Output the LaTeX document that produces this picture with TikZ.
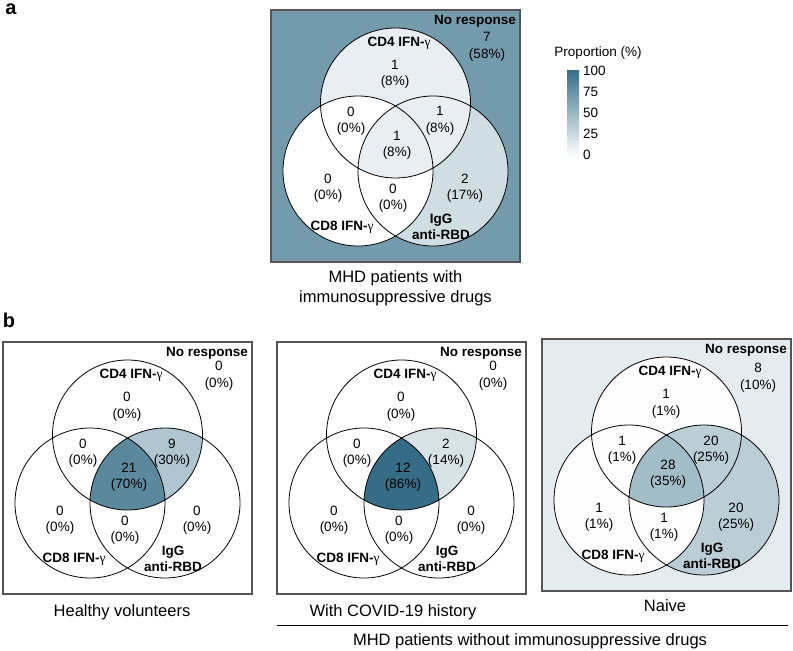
\documentclass[tikz,border=0pt]{standalone}
\usepackage{fontspec}
\setmainfont{Liberation Sans}
\newfontfamily\gfont{Liberation Serif}
\definecolor{vb}{RGB}{20,85,115}
\definecolor{boxgray}{RGB}{85,85,85}
\newcommand\gam{{\gfont\mdseries γ}}
\tikzset{
  num/.style={font=\fontsize{13.5}{16.5}\selectfont, align=center, inner sep=0pt},
  lab/.style={font=\fontsize{13.5}{16.5}\selectfont\bfseries, align=center, inner sep=0pt},
  captxt/.style={font=\fontsize{16.5}{20.5}\selectfont, align=center, inner sep=0pt},
  leg/.style={font=\fontsize{13.5}{16}\selectfont, inner sep=0pt},
  plabel/.style={font=\fontsize{20}{24}\selectfont\bfseries, inner sep=0pt},
  circ/.style={draw=black, line width=0.8pt},
  panelbox/.style={draw=boxgray, line width=1.2pt},
}
% #1 prefix, #2..#9 percentages: none, A, B, C, AB, AC, BC, ABC
\newcommand\vennfill[9]{%
  \coordinate (#1A) at (124.5,93);
  \coordinate (#1B) at (87,161);
  \coordinate (#1C) at (162,161);
  \fill[vb!#2!white] (0,0) rectangle (249,252);
  \fill[vb!#3!white] (#1A) circle[radius=75];
  \fill[vb!#4!white] (#1B) circle[radius=75];
  \fill[vb!#5!white] (#1C) circle[radius=75];
  \begin{scope}\clip (#1A) circle[radius=75]; \fill[vb!#6!white] (#1B) circle[radius=75];\end{scope}
  \begin{scope}\clip (#1A) circle[radius=75]; \fill[vb!#7!white] (#1C) circle[radius=75];\end{scope}
  \begin{scope}\clip (#1B) circle[radius=75]; \fill[vb!#8!white] (#1C) circle[radius=75];\end{scope}
  \begin{scope}\clip (#1A) circle[radius=75]; \clip (#1B) circle[radius=75]; \fill[vb!#9!white] (#1C) circle[radius=75];\end{scope}
  \draw[circ] (#1A) circle[radius=75] (#1B) circle[radius=75] (#1C) circle[radius=75];
  \draw[panelbox] (0,0) rectangle (249,252);
  \node[lab, anchor=east] (#1nrl) at (245,11) {No response};
  \node[lab] (#1cd4) at (128,33) {CD4 IFN-\gam};
  \node[lab] (#1cd8) at (71,217) {CD8 IFN-\gam};
  \node[lab] (#1igg) at (170,217) {IgG\\anti-RBD};
}
% #1 prefix, #2 none-y, #3 none, #4 A, #5 AB, #6 AC, #7 ABC, #8 B, #9 BC
\newcommand\venntext[9]{%
  \node[num] (#1nN) at (216,#2) {#3};
  \node[num] (#1nA) at (124,64.5) {#4};
  \node[num] (#1nAB) at (80,111) {#5};
  \node[num] (#1nAC) at (169,111) {#6};
  \node[num] (#1nABC) at (126,135) {#7};
  \node[num] (#1nB) at (57,178) {#8};
  \node[num] (#1nBC) at (122,188) {#9};
}
\begin{document}
\begin{tikzpicture}[x=1pt,y=-1pt]
\useasboundingbox (0,0) rectangle (793,651);
\fill[white] (0,0) rectangle (793,651);

\node[plabel] (la) at (11,9) {a};
\node[plabel] (lb) at (9,320) {b};

% panel a
\begin{scope}[shift={(271,10)}]
  \vennfill{pa}{59}{10}{0}{20}{0}{10}{0}{10}
  \venntext{pa}{37}{7\\(58\%)}{1\\(8\%)}{0\\(0\%)}{1\\(8\%)}{1\\(8\%)}{0\\(0\%)}{0\\(0\%)}
  \node[num] (panC) at (194,178) {2\\(17\%)};
  \node[captxt] (capa) at (124.5,278) {MHD patients with\\immunosuppressive drugs};
\end{scope}

% legend
\node[leg] (legt) at (598,53) {Proportion (\%)};
\shade[top color=vb!85!white, bottom color=white] (567,70) rectangle (579,157);
\node[leg, anchor=west] (l100) at (583,71) {100};
\node[leg, anchor=west] (l75) at (583,92) {75};
\node[leg, anchor=west] (l50) at (583,113) {50};
\node[leg, anchor=west] (l25) at (583,134) {25};
\node[leg, anchor=west] (l0) at (583,155) {0};

% panel b1 healthy
\begin{scope}[shift={(3,342)}]
  \vennfill{pb}{0}{0}{0}{0}{0}{34}{0}{70}
  \venntext{pb}{33.5}{0\\(0\%)}{0\\(0\%)}{0\\(0\%)}{9\\(30\%)}{21\\(70\%)}{0\\(0\%)}{0\\(0\%)}
  \node[num] (pbnC) at (194,178) {0\\(0\%)};
  \node[captxt] (capb) at (119,270) {Healthy volunteers};
\end{scope}

% panel b2 covid history
\begin{scope}[shift={(277,342)}]
  \vennfill{pc}{0}{0}{0}{0}{0}{17}{0}{86}
  \venntext{pc}{33.5}{0\\(0\%)}{0\\(0\%)}{0\\(0\%)}{2\\(14\%)}{12\\(86\%)}{0\\(0\%)}{0\\(0\%)}
  \node[num] (pcnC) at (194,178) {0\\(0\%)};
  \node[captxt] (capc) at (116,270) {With COVID-19 history};
\end{scope}

% panel b3 naive
\begin{scope}[shift={(542,339)}]
  \vennfill{pd}{11}{1}{1}{29}{1}{29}{1}{39}
  \venntext{pd}{38.5}{8\\(10\%)}{1\\(1\%)}{1\\(1\%)}{20\\(25\%)}{28\\(35\%)}{1\\(1\%)}{1\\(1\%)}
  \node[num] (pdnC) at (194,178) {20\\(25\%)};
  \node[captxt] (capd) at (123,267) {Naive};
\end{scope}

\coordinate (gl) at (277,625);
\coordinate (gr) at (788,625);
\draw[line width=0.8pt, black] (gl) -- (gr);
\node[captxt] (capg) at (530,641) {MHD patients without immunosuppressive drugs};
\end{tikzpicture}
\end{document}
